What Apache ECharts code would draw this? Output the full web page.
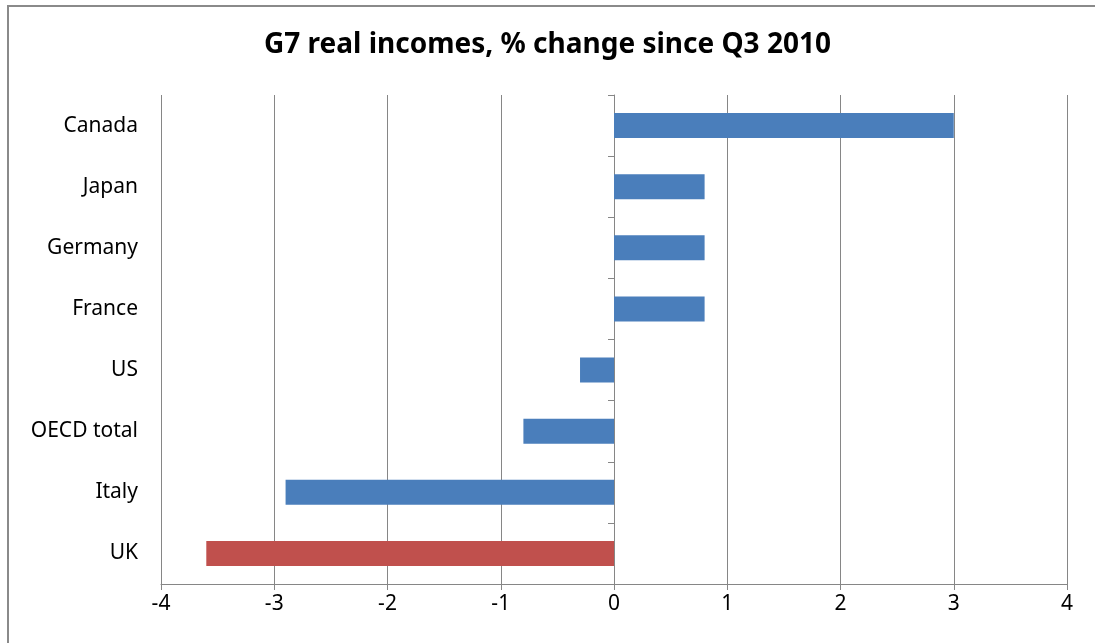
<!DOCTYPE html>
<html>
<head>
<meta charset="utf-8">
<script src="https://cdn.jsdelivr.net/npm/echarts@6/dist/echarts.min.js"></script>
<style>
html,body{margin:0;padding:0;background:#fff;}
#chart{width:1095px;height:643px;}
</style>
</head>
<body>
<div id="chart"></div>
<script>
// Categories listed bottom to top
var categories = ["UK", "Italy", "OECD total", "US", "France", "Germany", "Japan", "Canada"];
var values = [-3.6, -2.9, -0.8, -0.3, 0.8, 0.8, 0.8, 3.0];
var highlightCategory = "UK";
var titleText = "G7 real incomes, % change since Q3 2010";
var xMin = -4, xMax = 4, xInterval = 1;

var blue = "#4A7EBB", red = "#C0504D", grey = "#868686";
var font = "'Noto Sans', 'DejaVu Sans', sans-serif";

var chart = echarts.init(document.getElementById('chart'), null, {renderer: 'canvas'});
var barData = values.map(function (v, i) {
  return {value: v, itemStyle: {color: categories[i] === highlightCategory ? red : blue}};
});

chart.setOption({
  animation: false,
  backgroundColor: '#fff',
  graphic: [{
    type: 'rect',
    shape: {x: 8, y: 6, width: 1200, height: 800},
    style: {fill: 'none', stroke: '#8a8a8a', lineWidth: 2},
    silent: true, z: -10
  }],
  title: {
    text: titleText,
    left: 'center',
    top: 26,
    textStyle: {fontFamily: font, fontSize: 28, fontWeight: 'bold', color: '#000'}
  },
  grid: {left: 161, right: 28, top: 95, bottom: 59, containLabel: false},
  xAxis: {
    type: 'value',
    min: xMin, max: xMax, interval: xInterval,
    axisLine: {show: true, lineStyle: {color: grey, width: 1}},
    axisTick: {show: true, length: 6, lineStyle: {color: grey}},
    axisLabel: {fontFamily: font, fontSize: 21, color: '#000', margin: 10},
    splitLine: {show: true, lineStyle: {color: grey, width: 1}}
  },
  yAxis: [{
    type: 'category',
    data: categories,
    position: 'left',
    axisLine: {show: false, onZero: false},
    axisTick: {show: false},
    axisLabel: {fontFamily: font, fontSize: 21, color: '#000', margin: 23}
  }, {
    type: 'category',
    data: categories,
    position: 'left',
    axisLine: {show: true, onZero: true, lineStyle: {color: grey, width: 1}},
    axisTick: {show: true, length: 6, lineStyle: {color: grey}},
    axisLabel: {show: false}
  }],
  series: [{
    type: 'bar',
    data: barData,
    yAxisIndex: 0,
    barWidth: 25
  }]
});
</script>
</body>
</html>
